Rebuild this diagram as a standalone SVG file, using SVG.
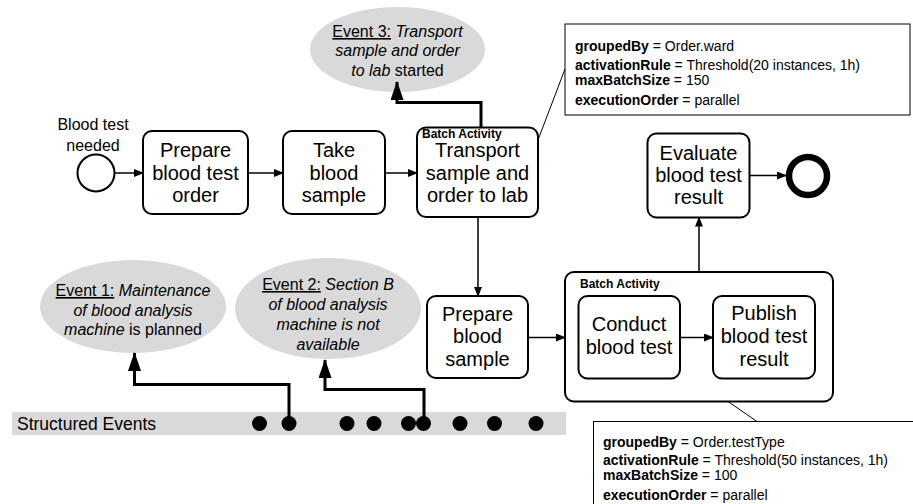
<svg xmlns="http://www.w3.org/2000/svg" width="913" height="504" viewBox="0 0 913 504">
  <style>
    .task { fill: #ffffff; stroke: #000000; stroke-width: 2; }
    .tt { font-family: "Liberation Sans", Arial, sans-serif; font-size: 20px; fill: #000000; text-anchor: middle; }
    .ev { fill: #d9d9d9; stroke: none; }
    .et { font-family: "Liberation Sans", Arial, sans-serif; font-size: 16px; fill: #000000; text-anchor: middle; }
    .it { font-style: italic; }
    .ul { text-decoration: underline; }
    .small { font-family: "Liberation Sans", Arial, sans-serif; font-size: 12px; font-weight: bold; fill: #000000; }
    .note { fill: #ffffff; stroke: #000000; stroke-width: 1; }
    .nt { font-family: "Liberation Sans", Arial, sans-serif; font-size: 14px; fill: #000000; }
    .b { font-weight: bold; }
    .flow { fill: none; stroke: #000000; stroke-width: 1.5; marker-end: url(#arr); }
    .link { fill: none; stroke: #000000; stroke-width: 3; marker-end: url(#bigarr); }
    .assoc { fill: none; stroke: #000000; stroke-width: 1; }
    .dot { fill: #000000; }
  </style>
  <defs>
    <marker id="arr" markerWidth="10" markerHeight="8" refX="9" refY="4" orient="auto" markerUnits="userSpaceOnUse">
      <path d="M0,0 L10,4 L0,8 Z" fill="#000000"/>
    </marker>
    <marker id="bigarr" markerWidth="19" markerHeight="13" refX="18" refY="6.5" orient="auto" markerUnits="userSpaceOnUse">
      <path d="M0,0 L19,6.5 L0,13 Z" fill="#000000"/>
    </marker>
  </defs>

  <!-- structured events band -->
  <g id="structured-events">
    <rect x="12" y="412" width="554" height="23" fill="#d9d9d9"/>
    <text x="17" y="430" font-family="Liberation Sans, Arial, sans-serif" font-size="17.5" fill="#000">Structured Events</text>
    <circle class="dot" cx="259.5" cy="423.5" r="7.5"/>
    <circle class="dot" cx="289" cy="423.5" r="7.5"/>
    <circle class="dot" cx="347" cy="423.5" r="7.5"/>
    <circle class="dot" cx="374" cy="423.5" r="7.5"/>
    <circle class="dot" cx="408.5" cy="423.5" r="7.5"/>
    <circle class="dot" cx="423.5" cy="423.5" r="7.5"/>
    <circle class="dot" cx="460" cy="423.5" r="7.5"/>
    <circle class="dot" cx="494.5" cy="423.5" r="7.5"/>
    <circle class="dot" cx="536" cy="423.5" r="7.5"/>
  </g>

  <!-- events -->
  <g id="event1">
    <ellipse class="ev" cx="133" cy="306.5" rx="93" ry="46.5"/>
    <text class="et" x="133" y="296"><tspan class="ul">Event 1:</tspan> <tspan class="it">Maintenance</tspan></text>
    <text class="et it" x="133" y="316">of blood analysis</text>
    <text class="et" x="133" y="335"><tspan class="it">machine</tspan> is planned</text>
  </g>
  <g id="event2">
    <ellipse class="ev" cx="328" cy="308.5" rx="93" ry="50.5"/>
    <text class="et" x="328" y="290"><tspan class="ul">Event 2:</tspan> <tspan class="it">Section B</tspan></text>
    <text class="et it" x="328" y="309.5">of blood analysis</text>
    <text class="et it" x="328" y="330">machine is not</text>
    <text class="et it" x="328" y="349.5">available</text>
  </g>
  <g id="event3">
    <ellipse class="ev" cx="397.5" cy="49.5" rx="87.5" ry="42.5"/>
    <text class="et" x="397.5" y="37"><tspan class="ul">Event 3:</tspan> <tspan class="it">Transport</tspan></text>
    <text class="et it" x="397.5" y="56">sample and order</text>
    <text class="et" x="397.5" y="75.5"><tspan class="it">to lab</tspan> started</text>
  </g>

  <!-- start and end events -->
  <g id="start">
    <text class="et" x="93" y="130">Blood test</text>
    <text class="et" x="93" y="150.5">needed</text>
    <circle cx="96" cy="173" r="18.5" fill="#fff" stroke="#000" stroke-width="2"/>
  </g>
  <g id="end">
    <circle cx="808" cy="176" r="19" fill="#fff" stroke="#000" stroke-width="6.5"/>
  </g>

  <!-- tasks -->
  <g id="prepare-order">
    <rect class="task" x="143" y="131" width="105" height="83" rx="9"/>
    <text class="tt" x="195.5" y="157">Prepare</text>
    <text class="tt" x="195.5" y="180">blood test</text>
    <text class="tt" x="195.5" y="202">order</text>
  </g>
  <g id="take-sample">
    <rect class="task" x="283" y="131" width="102" height="83" rx="9"/>
    <text class="tt" x="334" y="157">Take</text>
    <text class="tt" x="334" y="180">blood</text>
    <text class="tt" x="334" y="202">sample</text>
  </g>
  <g id="transport">
    <rect class="task" x="417" y="127.5" width="121" height="89.5" rx="9"/>
    <text class="small" x="422" y="137.5">Batch Activity</text>
    <text class="tt" x="477.5" y="157">Transport</text>
    <text class="tt" x="477.5" y="180">sample and</text>
    <text class="tt" x="477.5" y="202">order to lab</text>
  </g>
  <g id="evaluate">
    <rect class="task" x="647.5" y="133.5" width="102" height="84" rx="9"/>
    <text class="tt" x="698.5" y="160">Evaluate</text>
    <text class="tt" x="698.5" y="182">blood test</text>
    <text class="tt" x="698.5" y="204">result</text>
  </g>
  <g id="prepare-sample">
    <rect class="task" x="427" y="296" width="101" height="82" rx="9"/>
    <text class="tt" x="477.5" y="321">Prepare</text>
    <text class="tt" x="477.5" y="343">blood</text>
    <text class="tt" x="477.5" y="366">sample</text>
  </g>
  <g id="batch-activity">
    <rect class="task" x="565" y="272" width="268" height="129.5" rx="9"/>
    <text class="small" x="580" y="287.5">Batch Activity</text>
  </g>
  <g id="conduct">
    <rect class="task" x="578.5" y="296" width="101.5" height="82.5" rx="9"/>
    <text class="tt" x="629" y="331">Conduct</text>
    <text class="tt" x="629" y="354">blood test</text>
  </g>
  <g id="publish">
    <rect class="task" x="713" y="296" width="102" height="82.5" rx="9"/>
    <text class="tt" x="764" y="319.5">Publish</text>
    <text class="tt" x="764" y="343">blood test</text>
    <text class="tt" x="764" y="366">result</text>
  </g>

  <!-- annotations -->
  <g id="note-transport">
    <rect class="note" x="565" y="24" width="345" height="91"/>
    <text class="nt" x="575" y="51"><tspan class="b">groupedBy</tspan> = Order.ward</text>
    <text class="nt" x="575" y="69.5"><tspan class="b">activationRule</tspan> = Threshold(20 instances, 1h)</text>
    <text class="nt" x="575" y="85"><tspan class="b">maxBatchSize</tspan> = 150</text>
    <text class="nt" x="575" y="104.5"><tspan class="b">executionOrder</tspan> = parallel</text>
  </g>
  <g id="note-batch">
    <rect class="note" x="593.5" y="421.5" width="325" height="90"/>
    <text class="nt" x="603" y="446.5"><tspan class="b">groupedBy</tspan> = Order.testType</text>
    <text class="nt" x="603" y="465"><tspan class="b">activationRule</tspan> = Threshold(50 instances, 1h)</text>
    <text class="nt" x="603" y="480"><tspan class="b">maxBatchSize</tspan> = 100</text>
    <text class="nt" x="603" y="499.5"><tspan class="b">executionOrder</tspan> = parallel</text>
  </g>

  <!-- connectors -->
  <g id="connectors">
    <path class="flow" d="M114.5,173 L143,173"/>
    <path class="flow" d="M248,173 L283,173"/>
    <path class="flow" d="M385,173 L417,173"/>
    <path class="flow" d="M478,217 L478,296"/>
    <path class="flow" d="M528,337.5 L565,337.5"/>
    <path class="flow" d="M680,337.5 L713,337.5"/>
    <path class="flow" d="M699,272 L699,217.5"/>
    <path class="flow" d="M749.5,175.5 L786,175.5"/>
    <path class="link" d="M481,127.5 L481,102.5 L397,102.5 L397,82"/>
    <path class="link" d="M289,423.5 L289,384.5 L134.5,384.5 L134.5,353"/>
    <path class="link" d="M424,423.5 L424,389.5 L325,389.5 L325,360"/>
    <path class="assoc" d="M538,140 L565,69"/>
    <path class="assoc" d="M728,401.5 L757,421.5"/>
  </g>
</svg>
